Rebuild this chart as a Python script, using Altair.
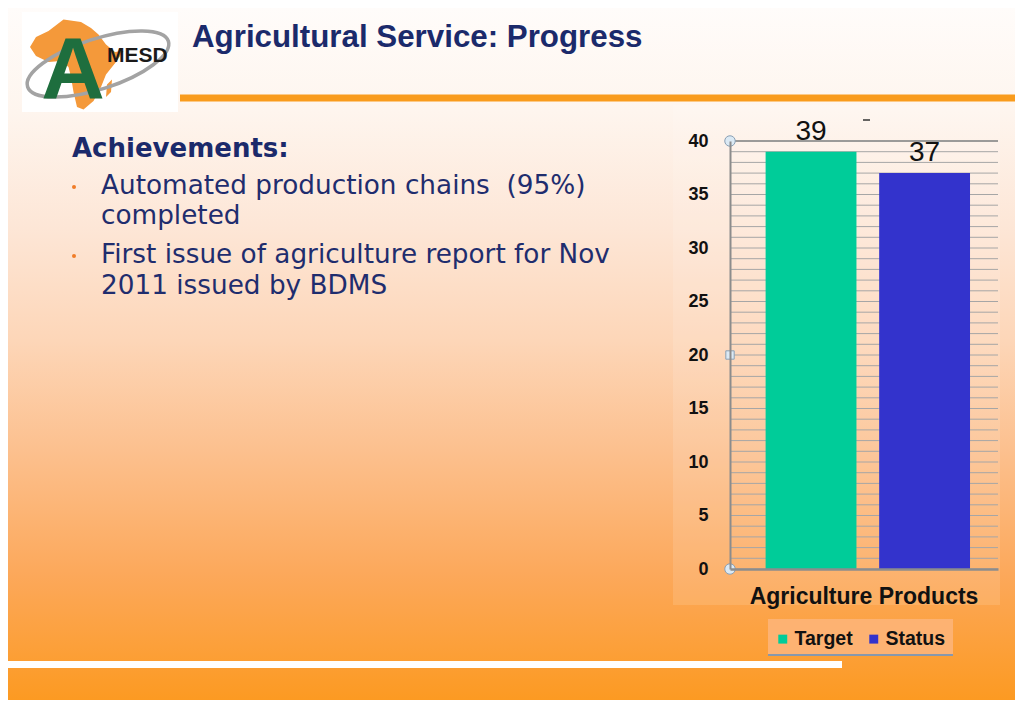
import altair as alt
import pandas as pd

# ---------------- data ----------------
categories = ["Agriculture Products"]
series = ["Target", "Status"]
values = [39, 37]
bar_colors = ["#00cc99", "#3333cc"]
grid_values = list(range(0, 41))

title_text = "Agricultural Service: Progress"
heading_text = "Achievements:"
bullet_lines = [
    "Automated production chains\u00a0 (95%)",
    "completed",
    "First issue of agriculture report for Nov",
    "2011 issued by BDMS",
]
logo_text = "MESD"

# ---------------- layout helpers (reference page pixels -> plot coords) ----------------
OX, OY = 730, 141          # plot origin on the page
PW, PH = 268, 428          # plot size


def px(X):
    return X - OX


def py(Y):
    return Y - OY


one = pd.DataFrame({"k": [0]})
df = pd.DataFrame({"category": categories * len(series), "series": series, "value": values})
grid_df = pd.DataFrame({"value": grid_values})

NAVY = "#1b2a6b"

# ---------------- shared encodings ----------------
x_enc = alt.X(
    "category:N",
    title=None,
    scale=alt.Scale(paddingInner=0, paddingOuter=0),
    axis=alt.Axis(
        labelAngle=0, ticks=False, tickSize=0, domainColor="#8c8c8c", domainWidth=2.5,
        labelFont="Liberation Sans", labelFontSize=23, labelFontWeight="bold", labelColor="#111111",
        labelBaseline="alphabetic", labelPadding=34, labelLimit=0, grid=False, zindex=1,
    ),
)
xoff_enc = alt.XOffset("series:N", sort=series,
                       scale=alt.Scale(paddingInner=0.2, paddingOuter=0.28, align=0.56))
y_enc = alt.Y(
    "value:Q",
    title=None,
    scale=alt.Scale(domain=[0, 40], nice=False),
    axis=alt.Axis(
        values=grid_values, labelExpr="datum.value % 5 === 0 ? datum.label : ''",
        ticks=False, tickSize=0, grid=False, domainColor="#8c8c8c", domainWidth=2,
        labelFont="Liberation Sans", labelFontSize=18, labelFontWeight="bold", labelColor="#111111",
        labelPadding=22, labelOverlap=False, zindex=1,
    ),
)


def rect(X1, X2, Y1, Y2, **kw):
    return alt.Chart(one).mark_rect(**kw).encode(
        x=alt.value(px(X1)), x2=alt.value(px(X2)), y=alt.value(py(Y1)), y2=alt.value(py(Y2))
    )


def text(X, Y, s, **kw):
    return alt.Chart(one).mark_text(text=s, **kw).encode(x=alt.value(px(X)), y=alt.value(py(Y)))


# ---------------- slide decoration ----------------
bg = rect(
    8, 1015, 8, 700,
    fill=alt.Gradient(
        gradient="linear", x1=0, x2=0, y1=0, y2=1,
        stops=[
            alt.GradientStop(color="#fffcfa", offset=0.0),
            alt.GradientStop(color="#fef5ee", offset=0.15),
            alt.GradientStop(color="#fde6d6", offset=0.32),
            alt.GradientStop(color="#fdd6b8", offset=0.48),
            alt.GradientStop(color="#fcc08e", offset=0.64),
            alt.GradientStop(color="#fca85a", offset=0.82),
            alt.GradientStop(color="#fc9a22", offset=1.0),
        ],
    ),
    strokeWidth=0,
)
panel = rect(673, 1000, 105, 605, fill="#ffffff", opacity=0.12, strokeWidth=0)
orange_line = rect(180, 1015, 94.5, 101.5, fill="#f99b1c", strokeWidth=0)
white_line = rect(8, 842, 661, 668, fill="#ffffff", strokeWidth=0)

# logo
logo_box = rect(22, 178, 12, 112, fill="#ffffff", strokeWidth=0)
africa_path = (
    "M -0.55 -0.62 L -0.25 -0.85 L 0.1 -0.8 L 0.3 -0.68 L 0.45 -0.55 L 0.6 -0.35 L 0.78 -0.2 "
    "L 0.95 -0.22 L 0.8 0.0 L 0.6 0.25 L 0.5 0.5 L 0.35 0.78 L 0.15 0.95 L 0.02 0.9 L -0.05 0.6 "
    "L -0.1 0.3 L -0.15 0.1 L -0.3 -0.02 L -0.55 0.0 L -0.8 -0.12 L -0.92 -0.3 L -0.8 -0.5 Z "
    "M 0.62 0.45 L 0.72 0.35 L 0.7 0.6 L 0.6 0.7 Z"
)
africa = alt.Chart(one).mark_point(
    shape=africa_path, size=10000, filled=True, fill="#f4993a", opacity=1, strokeWidth=0
).encode(x=alt.value(px(76)), y=alt.value(py(62)))
ring = alt.Chart(one).mark_point(
    shape="M -1 0 A 1 0.34 0 1 1 1 0 A 1 0.34 0 1 1 -1 0 Z", size=21904, filled=False,
    stroke="#a3a3a3", strokeWidth=3.5, opacity=1, angle=342,
).encode(x=alt.value(px(98)), y=alt.value(py(64)))
logo_a = text(73, 98, "A", font="Liberation Sans", fontSize=88, fontWeight="bold",
              color="#1e6e3e", align="center", baseline="alphabetic")
logo_t = text(107, 62, logo_text, font="Liberation Sans", fontSize=21, fontWeight="bold",
              color="#1a1a1a", align="left", baseline="alphabetic")

title = text(192, 47, title_text, font="Liberation Sans", fontSize=31.3, fontWeight="bold",
             color=NAVY, align="left", baseline="alphabetic")
heading = text(72, 157, heading_text, font="DejaVu Sans", fontSize=26, fontWeight="bold",
               color=NAVY, align="left", baseline="alphabetic")

line_baselines = [194, 224, 263, 294]
bullet_layers = []
for s, yb in zip(bullet_lines, line_baselines):
    bullet_layers.append(
        text(101, yb, s, font="DejaVu Sans", fontSize=26.3, color="#1f2d6e", align="left", baseline="alphabetic")
    )
for yb in [187, 256]:
    bullet_layers.append(
        alt.Chart(one).mark_circle(size=16, color="#f07c28", opacity=1).encode(
            x=alt.value(px(74)), y=alt.value(py(yb))
        )
    )

# ---------------- chart ----------------
grid = alt.Chart(grid_df).mark_rule(color="#a6a6a6", strokeWidth=1).encode(
    y=y_enc, x=alt.value(0), x2=alt.value(PW)
)
top_line = alt.Chart(one).mark_rule(color="#8a8a8a", strokeWidth=1.5).encode(
    y=alt.value(0), x=alt.value(0), x2=alt.value(PW)
)

legend_box = rect(768, 953, 619, 654, fill="#fdb272", strokeWidth=0)
legend_rule = alt.Chart(one).mark_rule(color="#8898ad", strokeWidth=2).encode(
    x=alt.value(px(768)), x2=alt.value(px(953)), y=alt.value(py(655))
)

base = alt.Chart(df)
bars = base.mark_bar(strokeWidth=0).encode(
    x=x_enc,
    xOffset=xoff_enc,
    y=y_enc,
    color=alt.Color(
        "series:N", sort=series,
        scale=alt.Scale(domain=series, range=bar_colors),
        legend=alt.Legend(
            title=None, orient="none", legendX=px(773), legendY=py(629), direction="horizontal",
            symbolType="square", symbolSize=80, symbolStrokeWidth=0,
            labelFont="Liberation Sans", labelFontSize=19.5, labelFontWeight="bold", labelColor="#111111",
            padding=0, columnPadding=11, labelOffset=2,
        ),
    ),
)
labels = base.mark_text(dy=-12, fontSize=28, font="Liberation Sans", color="#111111",
                        baseline="alphabetic").encode(
    x=x_enc, xOffset=xoff_enc, y=y_enc, text="value:Q"
)

dash = alt.Chart(one).mark_rule(color="#333333", strokeWidth=1.5).encode(
    x=alt.value(px(863)), x2=alt.value(px(870)), y=alt.value(py(120))
)
handle_style = dict(filled=True, fill="#dbe9f4", stroke="#8aa0b5", strokeWidth=1, opacity=1)
handle_top = alt.Chart(one).mark_point(shape="circle", size=110, **handle_style).encode(
    x=alt.value(0), y=alt.value(0))
handle_bot = alt.Chart(one).mark_point(shape="circle", size=110, **handle_style).encode(
    x=alt.value(0), y=alt.value(PH))
handle_mid = alt.Chart(one).mark_point(shape="square", size=70, **handle_style).encode(
    x=alt.value(0), y=alt.value(PH / 2))

chart = alt.layer(
    bg, panel, orange_line, white_line,
    logo_box, africa, ring, logo_a, logo_t,
    title, heading, *bullet_layers,
    legend_box, legend_rule,
    grid, top_line, bars, labels, dash,
    handle_top, handle_bot, handle_mid,
).properties(
    width=PW, height=PH,
    autosize=alt.AutoSizeParams(type="none"),
    padding={"left": OX - 8, "top": OY - 8, "right": 1007 - (OX - 8) - PW, "bottom": 692 - (OY - 8) - PH},
).configure_view(strokeWidth=0).configure(background="#ffffff")

chart.save("out.html", embed_options={"renderer": "svg", "actions": False})
